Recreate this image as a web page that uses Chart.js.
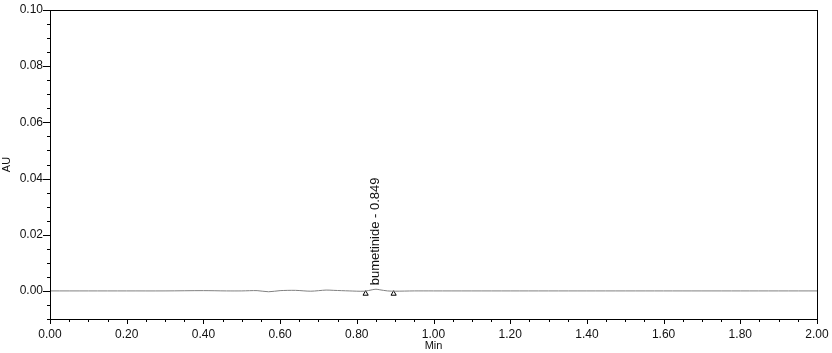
<!DOCTYPE html>
<html>
<head>
<meta charset="utf-8">
<script src="https://cdn.jsdelivr.net/npm/chart.js@4/dist/chart.umd.min.js"></script>
<style>
  html, body { margin: 0; padding: 0; background: #fff; }
  #wrap { width: 832px; height: 353px; }
</style>
</head>
<body>
<div id="wrap"><canvas id="chromChart"></canvas></div>
<script>
// Chromatogram trace (Min vs AU)
const times = [0.00, 0.10, 0.20, 0.30, 0.40, 0.46, 0.50, 0.54, 0.57, 0.60, 0.64, 0.68, 0.72, 0.74, 0.78, 0.82, 0.84, 0.85, 0.86, 0.88, 0.90, 0.95, 1.00, 1.20, 1.40, 1.60, 1.80, 2.00];
const absorbance = [0.0000, 0.0000, 0.0000, 0.0000, 0.0001, 0.0000, 0.0000, 0.0001, -0.0003, 0.0001, 0.0002, -0.0001, 0.0003, 0.0002, 0.0000, -0.0001, 0.0004, 0.0006, 0.0004, 0.0000, -0.0001, 0.0000, 0.0000, 0.0000, 0.0000, 0.0000, 0.0000, 0.0000];

// integration start / end markers
const markerTimes = [0.823, 0.896];
const markerValues = [-0.0010, -0.0010];

// peak annotation
const peakTime = 0.849;
const peakValue = 0.0006;
const peakLabel = 'bumetinide - 0.849';

// axis ticks
const xMin = 0, xMax = 2.0, xMajor = 0.2, xMinor = 0.05;
const yMin = -0.01, yMax = 0.10, yMajor = 0.02, yMinor = 0.005;

const isMajor = (v, step) => Math.abs(v / step - Math.round(v / step)) < 1e-6;

const traceData = times.map((t, i) => ({ x: t, y: absorbance[i] }));
const markerData = markerTimes.map((t, i) => ({ x: t, y: markerValues[i] }));

// frame + major/minor tick marks + peak label
const chromDecor = {
  id: 'chromDecor',
  afterDraw(chart) {
    const { ctx, chartArea: a, scales: { x, y } } = chart;
    ctx.save();
    ctx.strokeStyle = '#000';
    ctx.lineWidth = 1;
    ctx.strokeRect(Math.round(a.left) + 0.5, Math.round(a.top) + 0.5, Math.round(a.right - a.left), Math.round(a.bottom - a.top));

    ctx.beginPath();
    x.ticks.forEach(t => {
      const px = Math.round(x.getPixelForValue(t.value)) + 0.5;
      const len = isMajor(t.value, xMajor) ? 5 : 3;
      ctx.moveTo(px, a.bottom);
      ctx.lineTo(px, a.bottom + len);
    });
    y.ticks.forEach(t => {
      const py = Math.round(y.getPixelForValue(t.value)) + 0.5;
      const len = isMajor(t.value, yMajor) ? 7 : 3;
      ctx.moveTo(a.left, py);
      ctx.lineTo(a.left - len, py);
    });
    ctx.stroke();

    // rotated peak name
    const px = x.getPixelForValue(peakTime);
    const py = y.getPixelForValue(peakValue);
    ctx.translate(px, py - 4);
    ctx.rotate(-Math.PI / 2);
    ctx.font = '13px "Liberation Sans", Arial, sans-serif';
    ctx.fillStyle = '#111';
    ctx.textAlign = 'left';
    ctx.textBaseline = 'middle';
    ctx.fillText(peakLabel, 0, 0);
    ctx.restore();
  }
};

new Chart(document.getElementById('chromChart'), {
  type: 'line',
  data: {
    datasets: [
      {
        label: 'trace',
        data: traceData,
        borderColor: '#808080',
        borderWidth: 1,
        pointRadius: 0,
        tension: 0.3,
        fill: false
      },
      {
        label: 'markers',
        type: 'scatter',
        data: markerData,
        pointStyle: 'triangle',
        pointRadius: 3,
        borderColor: '#000',
        borderWidth: 1,
        backgroundColor: '#fff'
      }
    ]
  },
  options: {
    responsive: true,
    maintainAspectRatio: false,
    animation: false,
    layout: { padding: { top: 10, right: 15, left: 0, bottom: 0 } },
    plugins: { legend: { display: false }, tooltip: { enabled: false } },
    scales: {
      x: {
        type: 'linear',
        min: xMin,
        max: xMax,
        afterFit: s => { s.height = 34; },
        border: { display: false },
        grid: { drawOnChartArea: false, color: 'rgba(0,0,0,0)', tickLength: 6 },
        ticks: {
          stepSize: xMinor,
          autoSkip: false,
          maxRotation: 0,
          padding: 2,
          color: '#111',
          font: { family: '"Liberation Sans", Arial, sans-serif', size: 12 },
          callback: v => isMajor(v, xMajor) ? v.toFixed(2) : ''
        },
        title: {
          display: true,
          text: 'Min',
          color: '#111',
          padding: { top: 0, bottom: 0 },
          font: { family: '"Liberation Sans", Arial, sans-serif', size: 11 }
        }
      },
      y: {
        type: 'linear',
        min: yMin,
        max: yMax,
        afterFit: s => { s.width = 50; },
        border: { display: false },
        grid: { drawOnChartArea: false, color: 'rgba(0,0,0,0)', tickLength: 6 },
        ticks: {
          stepSize: yMinor,
          autoSkip: false,
          padding: 1,
          color: '#111',
          font: { family: '"Liberation Sans", Arial, sans-serif', size: 12 },
          callback: v => isMajor(v, yMajor) ? v.toFixed(2) : ''
        },
        title: {
          display: true,
          text: 'AU',
          color: '#111',
          padding: { top: 0, bottom: 0 },
          font: { family: '"Liberation Sans", Arial, sans-serif', size: 11 }
        }
      }
    }
  },
  plugins: [chromDecor]
});
</script>
</body>
</html>
